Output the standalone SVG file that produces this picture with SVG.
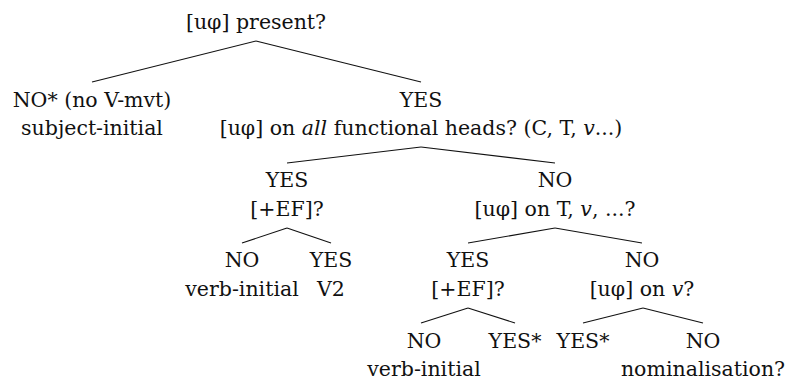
<svg xmlns="http://www.w3.org/2000/svg" width="785" height="380" viewBox="0 0 785 380">
<style>
text { font-family: "DejaVu Serif", "Liberation Serif", serif; font-size: 20.5px; fill: #111; text-anchor: middle; }
.it { font-style: italic; }
#connectors line { stroke: #111; stroke-width: 1.1; }
</style>
<rect width="785" height="380" fill="#fff"/>
<g id="connectors">
<line x1="256" y1="41" x2="92" y2="82"/>
<line x1="256" y1="41" x2="421" y2="82"/>
<line x1="421" y1="147" x2="287" y2="163"/>
<line x1="421" y1="147" x2="555" y2="163"/>
<line x1="287" y1="228" x2="242" y2="243"/>
<line x1="287" y1="228" x2="331" y2="243"/>
<line x1="555" y1="228" x2="468" y2="243"/>
<line x1="555" y1="228" x2="642" y2="243"/>
<line x1="468" y1="308" x2="421" y2="323"/>
<line x1="468" y1="308" x2="515" y2="323"/>
<line x1="643" y1="308" x2="583" y2="323"/>
<line x1="643" y1="308" x2="703" y2="323"/>
</g>
<g id="root"><text x="256" y="29">[uφ] present?</text></g>
<g id="n-no-vmvt"><text x="92" y="107">NO* (no V-mvt)</text><text x="92" y="135">subject-initial</text></g>
<g id="n-yes-all"><text x="421" y="107">YES</text><text x="421" y="135">[uφ] on <tspan class="it">all</tspan> functional heads? (C, T, <tspan class="it">v</tspan>...)</text></g>
<g id="n-yes-ef"><text x="287" y="187">YES</text><text x="287" y="216">[+EF]?</text></g>
<g id="n-no-tv"><text x="555" y="187">NO</text><text x="555" y="216">[uφ] on T, <tspan class="it">v</tspan>, ...?</text></g>
<g id="n-no-verbinitial-1"><text x="242" y="267">NO</text><text x="242" y="296">verb-initial</text></g>
<g id="n-yes-v2"><text x="331" y="267">YES</text><text x="331" y="296">V2</text></g>
<g id="n-yes-ef-2"><text x="468" y="267">YES</text><text x="468" y="296">[+EF]?</text></g>
<g id="n-no-v"><text x="642" y="267">NO</text><text x="642" y="296">[uφ] on <tspan class="it">v</tspan>?</text></g>
<g id="n-no-verbinitial-2"><text x="424" y="348">NO</text><text x="424" y="376">verb-initial</text></g>
<g id="n-yes-star-1"><text x="515" y="348">YES*</text></g>
<g id="n-yes-star-2"><text x="583" y="348">YES*</text></g>
<g id="n-no-nominal"><text x="703" y="348">NO</text><text x="703" y="376">nominalisation?</text></g>
</svg>
